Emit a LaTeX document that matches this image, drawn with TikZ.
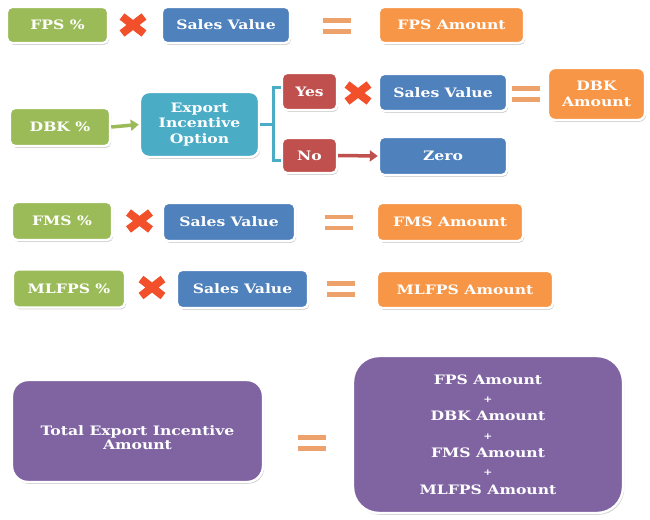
\documentclass[tikz,border=0pt]{standalone}
\usepackage{fontspec}
\newfontfamily\lblfont{DejaVu Serif}[FakeStretch=1.2]
\usetikzlibrary{shadows,arrows.meta}

\definecolor{cgreen}{HTML}{9BBB59}
\definecolor{cblue}{HTML}{4F81BD}
\definecolor{corange}{HTML}{F79646}
\definecolor{cred}{HTML}{C0504D}
\definecolor{cteal}{HTML}{4BACC6}
\definecolor{cpurple}{HTML}{8064A2}
\definecolor{ccross}{HTML}{F2502A}
\definecolor{cequal}{HTML}{EDA26C}

\begin{document}
\begin{tikzpicture}[x=1pt,y=-1pt,
  tile/.style={rectangle, rounded corners=5pt, draw=white, line width=2.4pt,
    text=white, align=center, inner sep=0pt,
    font=\lblfont\bfseries\fontsize{13}{15.5}\selectfont,
    drop shadow={shadow xshift=1.2pt, shadow yshift=-1.8pt, opacity=0.3, fill=black!60}},
  lbl/.style={text=white, align=center, inner sep=0pt,
    font=\lblfont\bfseries\fontsize{13}{14}\selectfont},
  flow/.style={line width=3.5pt, -{Triangle[length=8pt,width=11pt]}},
  bracket/.style={line width=3pt, cteal},
  cross/.pic={\draw[line width=8pt, ccross] (-11,-8.5) -- (11,8.5) (-11,8.5) -- (11,-8.5);},
  equal/.pic={\draw[line width=4.5pt, cequal] (-14,-5.3) -- (14,-5.3) (-14,5.3) -- (14,5.3);}
]
\useasboundingbox (0,0) rectangle (650,519);

% FPS row
\node[tile, fill=cgreen, minimum width=101pt, minimum height=36pt] (fpsp) at (57.5,25) {FPS \%};
\pic (x1) at (133,25) {cross};
\node[tile, fill=cblue, minimum width=128pt, minimum height=36pt] (sv1) at (226,25) {Sales Value};
\pic (e1) at (337,26) {equal};
\node[tile, fill=corange, minimum width=145pt, minimum height=36pt] (fpsa) at (451.5,25) {FPS Amount};

% DBK row with its yes/no branch
\node[tile, fill=cgreen, minimum width=100pt, minimum height=38pt] (dbkp) at (60,127) {DBK \%};
\node[tile, fill=cteal, rounded corners=9pt, minimum width=119pt, minimum height=65pt] (eio) at (199.5,124.5) {Export\\Incentive\\Option};
\node[tile, fill=cred, minimum width=55pt, minimum height=37pt] (yes) at (309.5,91.5) {Yes};
\pic (x2) at (358,93) {cross};
\node[tile, fill=cblue, minimum width=128pt, minimum height=37pt] (sv2) at (443,92.5) {Sales Value};
\pic (e2) at (526,94) {equal};
\node[tile, fill=corange, rounded corners=7pt, minimum width=97pt, minimum height=52pt] (dbka) at (596.5,94) {DBK\\Amount};
\node[tile, fill=cred, minimum width=55pt, minimum height=35pt] (no) at (309.5,155.5) {No};
\node[tile, fill=cblue, minimum width=128pt, minimum height=38pt] (zero) at (443,156) {Zero};

\draw[flow, cgreen] (dbkp.east) -- (eio.west);
\draw[flow, cred] (no.east) -- (zero.west);

\coordinate (bt) at (273,87);
\coordinate (bb) at (273,160);
\draw[bracket] (eio.east) -- (bt|-eio.east);
\draw[bracket] (yes.west|-bt) -- (bt) -- (bb) -- (no.west|-bb);

% FMS row
\node[tile, fill=cgreen, minimum width=100pt, minimum height=38pt] (fmsp) at (62,221) {FMS \%};
\pic (x3) at (139.5,221) {cross};
\node[tile, fill=cblue, minimum width=132pt, minimum height=38pt] (sv3) at (229,222) {Sales Value};
\pic (e3) at (339,222.5) {equal};
\node[tile, fill=corange, minimum width=146pt, minimum height=38pt] (fmsa) at (450,222) {FMS Amount};

% MLFPS row
\node[tile, fill=cgreen, minimum width=112pt, minimum height=38pt] (mlp) at (69,288.5) {MLFPS \%};
\pic (x4) at (152,287.5) {cross};
\node[tile, fill=cblue, minimum width=131pt, minimum height=38pt] (sv4) at (242.5,289) {Sales Value};
\pic (e4) at (341,289) {equal};
\node[tile, fill=corange, minimum width=176pt, minimum height=37pt] (mla) at (465,289.5) {MLFPS Amount};

% Total
\node[tile, fill=cpurple, rounded corners=16pt, minimum width=251pt, minimum height=102pt] (tot) at (137.5,431) {};
\node[lbl] (totlbl) at ([yshift=-7pt]tot.center) {Total Export Incentive\\Amount};
\pic (e5) at (311.5,443) {equal};
\node[tile, fill=cpurple, rounded corners=26pt, minimum width=270pt, minimum height=157pt,
  font=\lblfont\bfseries\fontsize{13}{18.3}\selectfont] (sum) at (488,434.5)
  {FPS Amount\\{\fontsize{9}{9}\selectfont +}\\DBK Amount\\{\fontsize{9}{9}\selectfont +}\\FMS Amount\\{\fontsize{9}{9}\selectfont +}\\MLFPS Amount};
\end{tikzpicture}
\end{document}
